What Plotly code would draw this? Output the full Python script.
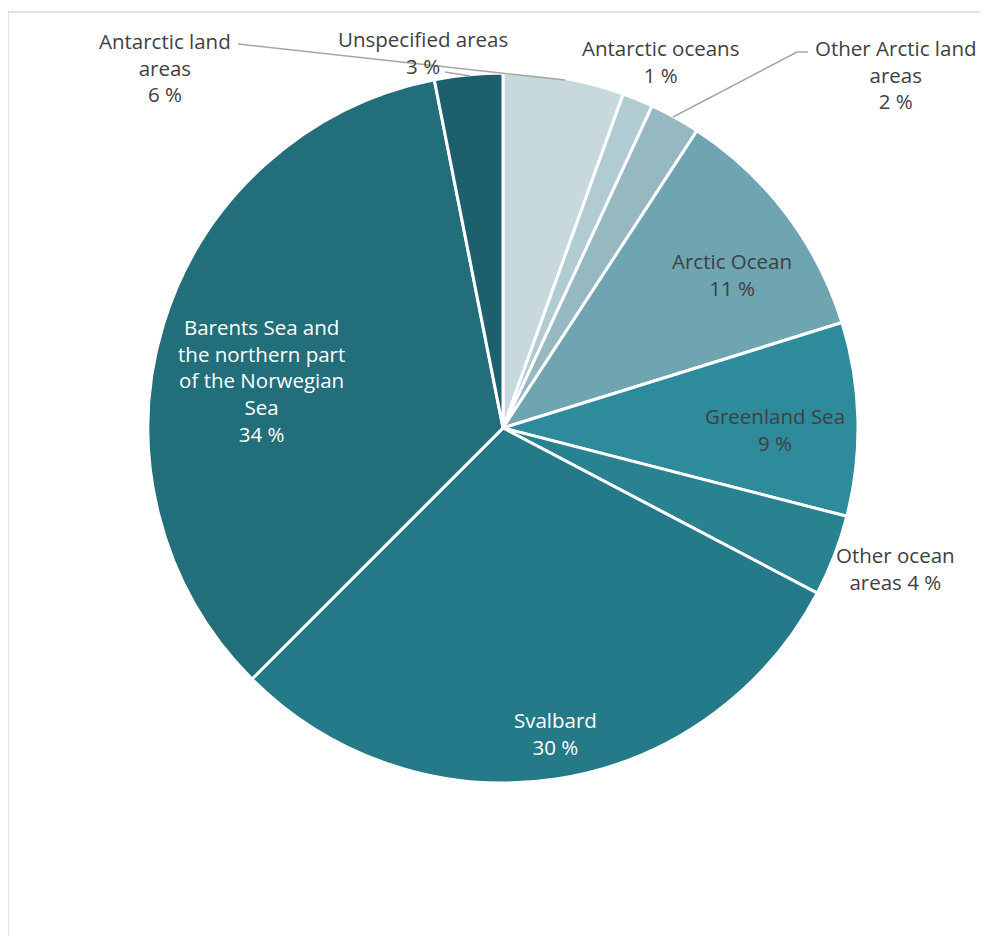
import plotly.graph_objects as go

# page body has an 8px margin, so figure coords = reference coords - 8
OFF = 8
W, H = 980, 928

categories = ["Antarctic land areas", "Antarctic oceans", "Other Arctic land areas",
              "Arctic Ocean", "Greenland Sea", "Other ocean areas", "Svalbard",
              "Barents Sea and the northern part of the Norwegian Sea", "Unspecified areas"]
shares = [5.5, 1.4, 2.3, 11.0, 8.8, 3.7, 29.8, 34.4, 3.1]
pct_labels = ["6 %", "1 %", "2 %", "11 %", "9 %", "4 %", "30 %", "34 %", "3 %"]
colors = ["#c8d9de", "#b0cbd2", "#96b9c1", "#6ea5b0", "#2e8b9c",
          "#288290", "#247a88", "#226e7a", "#1d5f6c"]

label_lines = [
    "Antarctic land<br>areas<br>" + pct_labels[0],
    "Antarctic oceans<br>" + pct_labels[1],
    "Other Arctic land<br>areas<br>" + pct_labels[2],
    "Arctic Ocean<br>" + pct_labels[3],
    "Greenland Sea<br>" + pct_labels[4],
    "Other ocean<br>areas " + pct_labels[5],
    "Svalbard<br>" + pct_labels[6],
    "Barents Sea and<br>the northern part<br>of the Norwegian<br>Sea<br>" + pct_labels[7],
    "Unspecified areas<br>" + pct_labels[8],
]
label_pos = [(165, 67), (660, 61), (896, 75), (732, 274), (775, 429),
             (895, 568), (555, 733), (261, 380), (423, 52)]
label_col = ["#404040"] * 6 + ["#ffffff", "#ffffff", "#404040"]

cx, cy, R = 503 - OFF, 428 - OFF, 355


def px(x):
    return (x - OFF) / W


def py(y):
    return 1 - (y - OFF) / H


fig = go.Figure(go.Pie(
    labels=categories, values=shares, sort=False, direction="clockwise", rotation=0,
    marker=dict(colors=colors, line=dict(color="white", width=3)),
    textinfo="none", hoverinfo="label+percent", showlegend=False,
    domain=dict(x=[(cx - R) / W, (cx + R) / W], y=[(H - cy - R) / H, (H - cy + R) / H]),
))

annotations = []
for txt, (x, y), c in zip(label_lines, label_pos, label_col):
    annotations.append(dict(x=px(x), y=py(y), xref="paper", yref="paper", text=txt,
                            showarrow=False, align="center", xanchor="center", yanchor="middle",
                            font=dict(family="Open Sans", size=20.5, color=c)))

lc = "#a6a6a6"


def px_line(x0, y0, x1, y1, color, width=1.5):
    return dict(type="line", xref="paper", yref="paper", x0=px(x0), y0=py(y0),
                x1=px(x1), y1=py(y1), line=dict(color=color, width=width))


shapes = [
    px_line(8, 12, 988, 12, "#d9d9d9", 1.5),
    px_line(8, 12, 8, 936, "#d9d9d9", 1.5),
    px_line(238, 44, 565, 80, lc),
    px_line(445, 72, 470, 76, lc),
    px_line(808, 52, 797, 52, lc),
    px_line(797, 52, 673, 117, lc),
]

fig.update_layout(width=W, height=H, margin=dict(l=0, r=0, t=0, b=0),
                  paper_bgcolor="white", plot_bgcolor="white",
                  annotations=annotations, shapes=shapes)
fig.write_html("out.html")
